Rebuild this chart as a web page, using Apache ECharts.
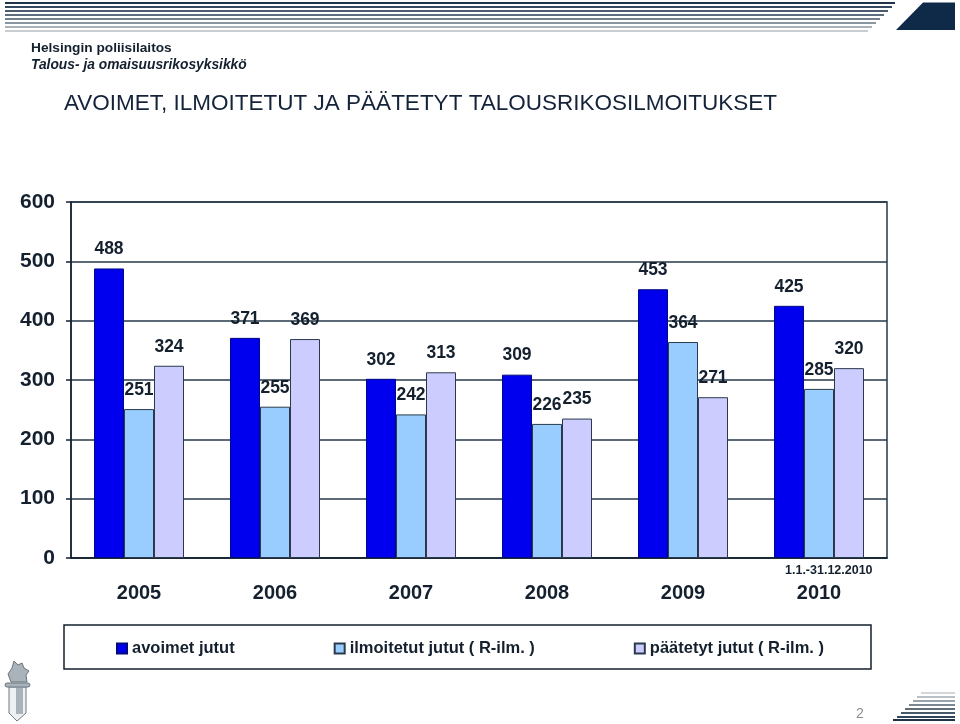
<!DOCTYPE html>
<html><head><meta charset="utf-8">
<style>html,body{margin:0;padding:0;background:#fff}#c{width:960px;height:724px}</style>
<script src="https://cdn.jsdelivr.net/npm/echarts@6/dist/echarts.min.js"></script>
</head><body><div id="c"></div>
<script>
const years = ['2005','2006','2007','2008','2009','2010'];
const avoimet = [488,371,302,309,453,425];
const ilmoitetut = [251,255,242,226,364,285];
const paatetyt = [324,369,313,235,271,320];
const names = ['avoimet jutut','ilmoitetut jutut ( R-ilm. )','päätetyt jutut ( R-ilm. )'];
const colors = ['#0000ee','#99ccff','#ccccff'];
const ink = '#14202e';
const sansFont = '"Liberation Sans",Arial,sans-serif';

const topStripes = [[2,895,'#1f3448'],[6,892,'#33485c'],[10,888,'#4a5c6e'],[14,884,'#5d6d7c'],[18,880,'#71808c'],[22,876,'#8a96a0'],[26,872,'#a9b2b9'],[30,868,'#c8cdd1']];
const botStripes = [[692,921,'#d3d7da'],[696,917,'#b9c0c5'],[700,913,'#98a3ab'],[704,909,'#7b8893'],[708,905,'#5f6e7b'],[712,901,'#475868'],[716,897,'#314558'],[719,893,'#1f3448']];
const g = [];
topStripes.forEach(s=>g.push({type:'rect',shape:{x:5,y:s[0],width:s[1]-5,height:2},style:{fill:s[2]},silent:true}));
botStripes.forEach(s=>g.push({type:'rect',shape:{x:s[1],y:s[0],width:955-s[1],height:2},style:{fill:s[2]},silent:true}));
g.push({type:'polygon',shape:{points:[[923,2.5],[955,2.5],[955,30],[896,30]]},style:{fill:'#0f2a48'},silent:true});
g.push({type:'rect',shape:{x:64,y:625,width:807,height:44},style:{fill:'#fff',stroke:ink,lineWidth:1.5},silent:true,z:-1});
g.push({type:'text',style:{x:31,y:41,text:'Helsingin poliisilaitos',font:'bold 13.7px '+sansFont,fill:'#14202e'}});
g.push({type:'text',style:{x:31,y:58,text:'Talous- ja omaisuusrikosyksikkö',font:'italic bold 13.8px '+sansFont,fill:'#14202e'}});
g.push({type:'text',style:{x:64,y:92,text:'AVOIMET, ILMOITETUT JA PÄÄTETYT TALOUSRIKOSILMOITUKSET',font:'22.5px '+sansFont,fill:'#14233a'}});
g.push({type:'text',style:{x:785,y:564,text:'1.1.-31.12.2010',font:'bold 12.5px '+sansFont,fill:ink}});
g.push({type:'text',style:{x:856,y:707,text:'2',font:'14px '+sansFont,fill:'#8a8f94'}});
// emblem
g.push({type:'polygon',shape:{points:[[9,687],[26,687],[26,713],[17,721],[9,713]]},style:{fill:'#eef0f1',stroke:'#6f7a84',lineWidth:1},silent:true});
g.push({type:'rect',shape:{x:16,y:687,width:7,height:27},style:{fill:'#a9b3bb'},silent:true});
g.push({type:'rect',shape:{x:5,y:683,width:25,height:4,r:2},style:{fill:'#a9b3bb',stroke:'#6f7a84'},silent:true});
g.push({type:'polygon',shape:{points:[[8,674],[12,668],[14,661],[18,665],[22,663],[24,668],[29,671],[26,675],[27,682],[11,682]]},style:{fill:'#aab3ba',stroke:'#6a747d'},silent:true});

const lbl = {show:true,position:'top',distance:10,fontFamily:sansFont,fontWeight:'bold',fontSize:17.5,color:ink};
const mk = (i,d)=>({name:names[i],type:'bar',data:d,barWidth:30,barGap:'0%',itemStyle:{color:colors[i],borderColor:i?'#2a3a4c':'#000a80',borderWidth:1},label:lbl});
echarts.init(document.getElementById('c'),null,{renderer:'canvas'}).setOption({
  animation:false,
  backgroundColor:'#fff',
  grid:{show:true,borderColor:'#26384a',borderWidth:1.5,left:71,width:816,top:202,height:356},
  legend:{left:111,top:635,itemGap:99,itemWidth:10,itemHeight:10,selectedMode:false,
    icon:'rect',textStyle:{fontFamily:sansFont,fontWeight:'bold',fontSize:16.5,color:ink},data:names},
  xAxis:{type:'category',data:years,
    axisLine:{lineStyle:{color:ink,width:1.5}},
    axisTick:{length:8,lineStyle:{color:ink,width:1.5}},
    axisLabel:{margin:25,fontFamily:sansFont,fontWeight:'bold',fontSize:20,color:ink}},
  yAxis:{type:'value',min:0,max:600,interval:100,
    axisLine:{show:true,lineStyle:{color:ink,width:1.5}},
    axisTick:{show:true,length:5,lineStyle:{color:ink,width:1.5}},
    splitLine:{lineStyle:{color:'#26384a',width:1.5}},
    axisLabel:{margin:16,fontFamily:sansFont,fontWeight:'bold',fontSize:21,color:ink}},
  series:[mk(0,avoimet),mk(1,ilmoitetut),mk(2,paatetyt)],
  graphic:{elements:g}
});
</script></body></html>
